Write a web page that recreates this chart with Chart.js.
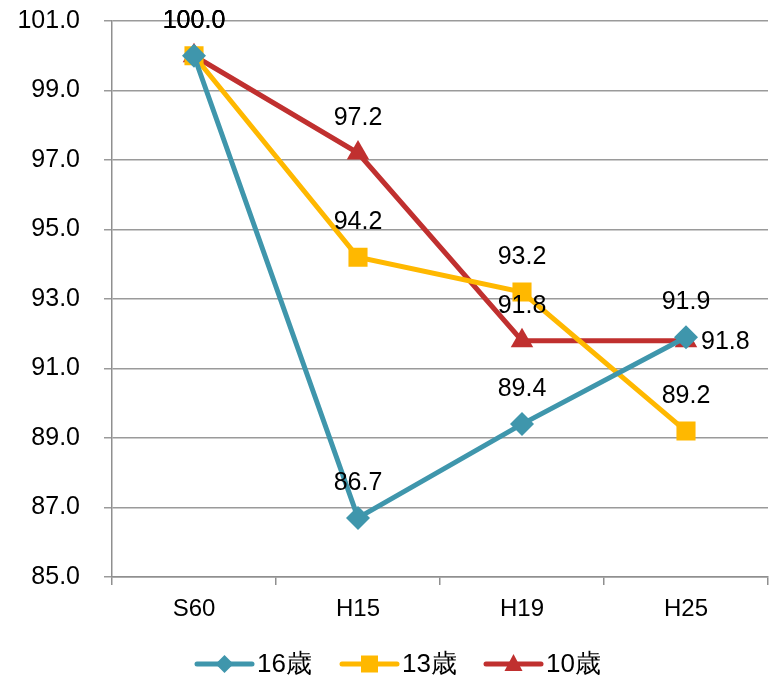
<!DOCTYPE html>
<html>
<head>
<meta charset="utf-8">
<script src="https://cdn.jsdelivr.net/npm/chart.js@4"></script>
<style>
html,body{margin:0;padding:0;background:#fff;}
#wrap{width:772px;height:679px;position:relative;}
</style>
</head>
<body>
<div id="wrap"><canvas id="c" width="772" height="679"></canvas></div>
<script>
const categories = ['S60', 'H15', 'H19', 'H25'];
const seriesNames = ['16歳', '13歳', '10歳'];
const values16 = [100.0, 86.7, 89.4, 91.9];
const values13 = [100.0, 94.2, 93.2, 89.2];
const values10 = [100.0, 97.2, 91.8, 91.8];
const yTicks = [85, 87, 89, 91, 93, 95, 97, 99, 101];

const colors = ['#3F96AC', '#FFB800', '#C0302F'];
const styles = ['rectRot', 'rect', 'triangle'];
const radii = [12, 13.5, 13];
const FONT = '"Liberation Sans", Arial, sans-serif';

const labelPlugin = {
  id: 'valLabels',
  afterDatasetsDraw(chart) {
    const ctx = chart.ctx;
    ctx.save();
    ctx.font = '25px ' + FONT;
    ctx.fillStyle = '#000';
    ctx.textBaseline = 'middle';
    chart.data.datasets.forEach((ds, di) => {
      const meta = chart.getDatasetMeta(di);
      meta.data.forEach((pt, i) => {
        const txt = ds.data[i].toFixed(1);
        if (di === 2 && i === 3) {
          ctx.textAlign = 'left';
          ctx.fillText(txt, pt.x + 15, pt.y + 1);
        } else {
          ctx.textAlign = 'center';
          ctx.fillText(txt, pt.x, pt.y - 35);
        }
      });
    });
    ctx.restore();
  }
};

const legendPlugin = {
  id: 'customLegend',
  afterDraw(chart) {
    const ctx = chart.ctx;
    const y = 664;
    const starts = [197, 342, 486];
    ctx.save();
    seriesNames.forEach((name, i) => {
      const x0 = starts[i];
      ctx.strokeStyle = colors[i];
      ctx.lineWidth = 5;
      ctx.lineCap = 'round';
      ctx.beginPath();
      ctx.moveTo(x0, y);
      ctx.lineTo(x0 + 55, y);
      ctx.stroke();
      const cx = x0 + 27.5;
      ctx.fillStyle = colors[i];
      ctx.beginPath();
      if (i === 0) {
        ctx.moveTo(cx, y - 9); ctx.lineTo(cx + 9, y); ctx.lineTo(cx, y + 9); ctx.lineTo(cx - 9, y);
      } else if (i === 1) {
        ctx.rect(cx - 8.5, y - 8.5, 17, 17);
      } else {
        ctx.moveTo(cx, y - 10); ctx.lineTo(cx + 9, y + 7); ctx.lineTo(cx - 9, y + 7);
      }
      ctx.closePath();
      ctx.fill();
      ctx.fillStyle = '#000';
      ctx.font = '26px ' + FONT;
      ctx.textAlign = 'left';
      ctx.textBaseline = 'middle';
      ctx.fillText(name, x0 + 60, y + 1);
    });
    ctx.restore();
  }
};

const allValues = [values16, values13, values10];
new Chart(document.getElementById('c'), {
  type: 'line',
  data: {
    labels: categories,
    datasets: seriesNames.map((n, i) => ({
      label: n,
      data: allValues[i],
      borderColor: colors[i],
      backgroundColor: colors[i],
      borderWidth: 5,
      pointStyle: styles[i],
      pointRadius: radii[i],
      pointHoverRadius: radii[i],
      pointBorderWidth: 0,
      tension: 0,
      fill: false
    }))
  },
  options: {
    responsive: false,
    animation: false,
    events: [],
    layout: { autoPadding: false, padding: { left: 0, right: 4, top: 21, bottom: 0 } },
    plugins: { legend: { display: false }, tooltip: { enabled: false } },
    scales: {
      x: {
        offset: true,
        grid: { display: true, drawOnChartArea: false, offset: true, color: '#8f8f8f', lineWidth: 1.5, tickLength: 8 },
        border: { color: '#8f8f8f', width: 1.5 },
        ticks: { color: '#000', font: { family: FONT, size: 24 }, padding: 10 },
        afterFit: s => { s.height = 102; s.paddingLeft = 0; s.paddingRight = 0; }
      },
      y: {
        min: 85, max: 101,
        afterBuildTicks: s => { s.ticks = yTicks.map(v => ({ value: v })); },
        grid: { color: '#9a9a9a', lineWidth: 1.5, tickLength: 8 },
        border: { color: '#8f8f8f', width: 1.5 },
        ticks: { color: '#000', font: { family: FONT, size: 25 }, padding: 24, callback: v => Number(v).toFixed(1) },
        afterFit: s => { s.width = 112; s.paddingTop = 0; s.paddingBottom = 0; }
      }
    }
  },
  plugins: [labelPlugin, legendPlugin]
});
</script>
</body>
</html>
